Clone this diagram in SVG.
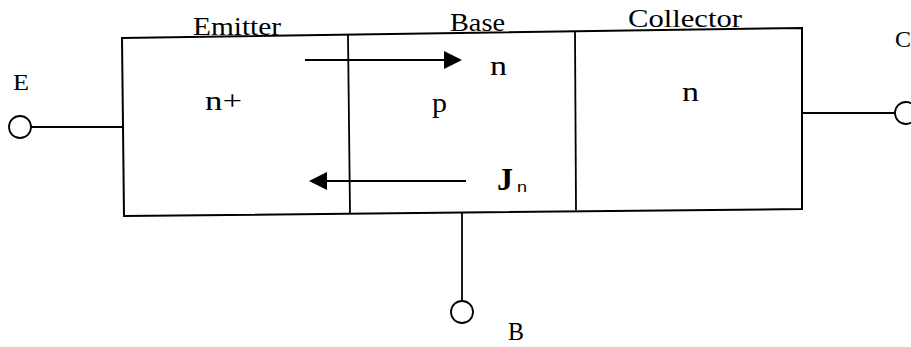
<svg xmlns="http://www.w3.org/2000/svg" width="911" height="347" viewBox="0 0 911 347">
<style>
  .ln{stroke:#000;stroke-width:1.8;fill:none}
  .box{stroke:#000;stroke-width:2;fill:#fff}
  .term{stroke:#000;stroke-width:1.8;fill:#fff}
  .t{font-family:"Liberation Serif","Times New Roman",serif;fill:#000}
  .ah{fill:#000;stroke:none}
</style>
<rect width="911" height="347" fill="#fff"/>
<g id="transistor-body">
  <polygon class="box" points="122,38 802,28 802,209 124,216"/>
</g>
<g id="emitter">
  <line class="ln" x1="348" y1="35" x2="350" y2="213"/>
  <text class="t" x="193" y="35" style="font-size:25px" textLength="88" lengthAdjust="spacingAndGlyphs">Emitter</text>
  <text class="t" x="205" y="110" style="font-size:28px" textLength="37" lengthAdjust="spacingAndGlyphs">n+</text>
</g>
<g id="base">
  <line class="ln" x1="575" y1="32" x2="576" y2="210"/>
  <text class="t" x="450" y="31" style="font-size:25px" textLength="55" lengthAdjust="spacingAndGlyphs">Base</text>
  <text class="t" x="432" y="112" style="font-size:28px" textLength="15" lengthAdjust="spacingAndGlyphs">p</text>
  <text class="t" x="490" y="75" style="font-size:28px" textLength="17" lengthAdjust="spacingAndGlyphs">n</text>
  <text class="t" x="497" y="190" style="font-size:32px;font-weight:bold" textLength="16" lengthAdjust="spacingAndGlyphs">J</text>
  <text x="517" y="192" style="font-family:'Liberation Sans',Arial,sans-serif;font-size:15px" textLength="10" lengthAdjust="spacingAndGlyphs">n</text>
</g>
<g id="collector">
  <text class="t" x="628" y="27" style="font-size:25px" textLength="114" lengthAdjust="spacingAndGlyphs">Collector</text>
  <text class="t" x="682" y="101" style="font-size:28px" textLength="17" lengthAdjust="spacingAndGlyphs">n</text>
</g>
<g id="terminal-E">
  <circle class="term" cx="20" cy="127" r="11"/>
  <text class="t" x="13" y="90" style="font-size:24px" textLength="16" lengthAdjust="spacingAndGlyphs">E</text>
</g>
<g id="terminal-C">
  <circle class="term" cx="906" cy="113" r="11"/>
  <text class="t" x="895" y="47" style="font-size:24px" textLength="16" lengthAdjust="spacingAndGlyphs">C</text>
</g>
<g id="terminal-B">
  <circle class="term" cx="462" cy="312" r="11"/>
  <text class="t" x="508" y="340" style="font-size:25px" textLength="16" lengthAdjust="spacingAndGlyphs">B</text>
</g>
<g id="connectors">
  <line class="ln" x1="31" y1="127" x2="122" y2="127"/>
  <line class="ln" x1="802" y1="113" x2="895" y2="113"/>
  <line class="ln" x1="462" y1="212" x2="462" y2="301"/>
  <line class="ln" x1="305" y1="60" x2="446" y2="60"/>
  <polygon class="ah" points="444,51 462,60 444,69"/>
  <line class="ln" x1="466" y1="181" x2="325" y2="181"/>
  <polygon class="ah" points="327,172 309,181 327,190"/>
</g>
</svg>
